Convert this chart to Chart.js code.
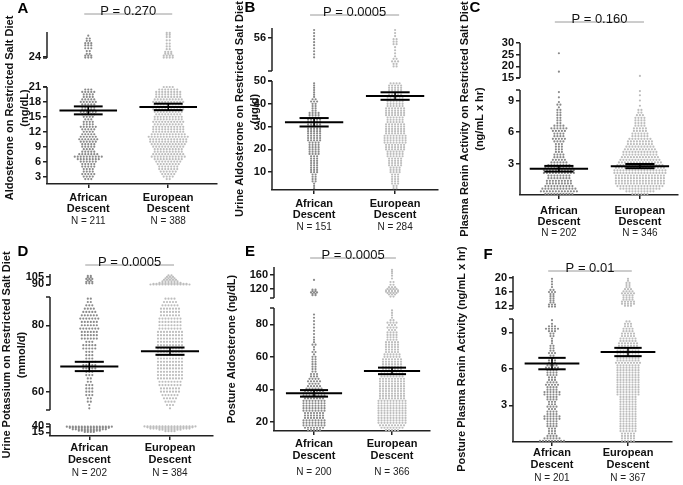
<!DOCTYPE html>
<html>
<head>
<meta charset="utf-8">
<title>Aldosterone and renin by ancestry</title>
<script src="https://cdn.jsdelivr.net/npm/chart.js@4.4.1/dist/chart.umd.min.js"></script>
<style>
  body { margin: 0; background: #fff; }
  #wrap { position: relative; width: 683px; height: 485px; overflow: hidden; }
  canvas { position: absolute; }
</style>
</head>
<body>
<div id="wrap">
  <canvas id="A" width="230" height="240" style="left:0;top:0"></canvas>
  <canvas id="B" width="225" height="240" style="left:230px;top:0"></canvas>
  <canvas id="C" width="228" height="240" style="left:455px;top:0"></canvas>
  <canvas id="D" width="230" height="245" style="left:0;top:240px"></canvas>
  <canvas id="E" width="233" height="245" style="left:222px;top:240px"></canvas>
  <canvas id="F" width="228" height="245" style="left:455px;top:240px"></canvas>
</div>
<script>
const FONT = '"Liberation Sans", Arial, sans-serif';

// x categories
const groupLabels = [['African', 'Descent'], ['European', 'Descent']];

// every swarm is a list of [value, dots in that row]
// A - aldosterone on restricted salt diet (ng/dL)
const aAfrican = [[2.5,3],[3,4],[3.5,5],[4,4],[4.5,4],[5,5],[5.5,5],[6,6],[6.5,8],[7,10],[7.5,7],[8,5],[8.5,4],[9,5],[9.5,5],[10,6],[10.5,7],[11,6],[11.5,5],[12,4],[12.5,5],[13,6],[13.5,4],[14,4],[14.5,3],[15,4],[15.5,5],[16,6],[16.5,5],[17,5],[17.5,5],[18,6],[18.5,5],[19,4],[19.5,4],[20,5],[20.5,3],
  [23.8,3],[24.2,3],[24.6,2],[25.2,2],[25.8,3],[26.4,3],[26.9,3],[27.4,2],[27.9,2],[28.5,1]];
const aEuropean = [[2.5,2],[3,4],[3.5,5],[4,6],[4.5,7],[5,7],[5.5,8],[6,9],[6.5,10],[7,12],[7.5,11],[8,10],[8.5,10],[9,11],[9.5,12],[10,13],[10.5,13],[11,14],[11.5,12],[12,11],[12.5,11],[13,11],[13.5,10],[14,11],[14.5,10],[15,10],[15.5,9],[16,10],[16.5,11],[17,11],[17.5,10],[18,11],[18.5,10],[19,9],[19.5,9],[20,9],[20.5,7],[21,4],
  [23.8,4],[24.2,4],[24.6,3],[25,3],[25.6,2],[26.2,2],[26.8,2],[27.5,2],[28.2,2],[28.7,2],[29.1,2]];
const aMean = [16.3, 17.0];
const aSem = [0.8, 0.65];
const aN = [211, 388];
const aTicks = [3, 6, 9, 12, 15, 18, 21, 24];

// B - urine aldosterone on restricted salt diet (µg/d)
const bAfrican = [[3,1],[4,1],[5,1],[6,2],[7,2],[8,2],[9,2],[10,3],[11,3],[12,3],[13,3],[14,3],[15,3],[16,3],[17,3],[18,4],[19,4],[20,4],[21,4],[22,4],[23,4],[24,5],[25,5],[26,5],[27,5],[28,5],[29,5],[30,5],[31,5],[32,5],[33,5],[34,4],[35,4],[36,4],[37,2],[38,2],[39,2],[40,2],[41,3],[42,2],[43,1],[44,1],[45,1],[46,1],[47,1],[48,1],[49,1],
  [52.2,1],[52.8,1],[53.4,1],[54,1],[54.6,1],[55.2,1],[55.8,1],[56.4,1],[57,1],[57.6,1]];
const bEuropean = [[3,2],[4,2],[5,3],[6,3],[7,3],[8,3],[9,3],[10,4],[11,4],[12,4],[13,5],[14,5],[15,5],[16,5],[17,6],[18,6],[19,6],[20,7],[21,7],[22,7],[23,8],[24,8],[25,8],[26,8],[27,7],[28,7],[29,7],[30,7],[31,7],[32,6],[33,6],[34,6],[35,7],[36,7],[37,7],[38,7],[39,6],[40,6],[41,6],[42,6],[43,6],[44,5],[45,5],[46,5],[47,5],[48,5],[49,4],
  [50.4,2],[50.9,2],[51.4,3],[51.9,2],[52.4,1],[53,1],[53.6,1],[54.2,1],[54.8,2],[55.3,2],[55.8,2],[56.4,1],[57,1],[57.6,1]];
const bMean = [31.9, 43.4];
const bSem = [1.85, 1.65];
const bN = [151, 284];
const bTicks = [10, 20, 30, 40, 50, 56];

// C - plasma renin activity on restricted salt diet (ng/mL x hr)
const cAfrican = [[0.1,10],[0.35,13],[0.6,12],[0.85,10],[1.1,9],[1.35,9],[1.6,8],[1.85,8],[2.1,11],[2.35,11],[2.6,10],[2.85,8],[3.1,6],[3.35,5],[3.6,4],[3.85,4],[4.1,3],[4.35,3],[4.6,3],[4.85,3],[5.1,4],[5.35,5],[5.6,4],[5.85,4],[6.1,5],[6.35,6],[6.6,4],[6.85,2],[7.1,2],[7.35,2],[7.6,2],[7.85,2],[8.1,2],[8.35,1],[8.6,2],[8.85,1],[9.3,1],[9.8,1],
  [17.7,1],[25.6,1]];
const cEuropean = [[0.1,6],[0.35,10],[0.6,14],[0.85,16],[1.1,17],[1.35,17],[1.6,17],[1.85,17],[2.1,18],[2.35,18],[2.6,17],[2.85,16],[3.1,15],[3.35,14],[3.6,13],[3.85,12],[4.1,12],[4.35,11],[4.6,10],[4.85,9],[5.1,9],[5.35,8],[5.6,6],[5.85,6],[6.1,5],[6.35,5],[6.6,4],[6.85,4],[7.1,4],[7.35,4],[7.6,3],[7.85,2],[8.1,2],[8.5,1],[9,1],[9.5,1],[9.9,1],
  [15.9,1]];
const cMean = [2.5, 2.75];
const cSem = [0.27, 0.2];
const cN = [202, 346];
const cTicks = [3, 6, 9, 15, 20, 25, 30];

// D - urine potassium on restricted salt diet (mmol/d)
const dAfrican = [[39,16],[34,14],[28,12],[22,8],[17,4],
  [55,1],[56,1],[57,2],[58,2],[59,3],[60,3],[61,3],[62,3],[63,2],[64,2],[65,3],[66,3],[67,5],[68,5],[69,5],[70,3],[71,3],[72,3],[73,5],[74,5],[75,3],[76,6],[77,6],[78,6],[79,7],[80,6],[81,6],[82,7],[83,6],[84,5],[85,4],[86,3],[87,2],[88,2],
  [92,3],[95,3],[98,2],[101,3],[104,2],[107,2]];
const dEuropean = [[40,18],[36,16],[31,14],[26,8],[20,4],
  [55,1],[56,3],[57,4],[58,5],[59,6],[60,7],[61,7],[62,8],[63,8],[64,9],[65,9],[66,9],[67,9],[68,9],[69,9],[70,9],[71,9],[72,9],[73,9],[74,9],[75,9],[76,9],[77,9],[78,9],[79,8],[80,8],[81,8],[82,8],[83,7],[84,7],[85,7],[86,6],[87,5],[88,4],
  [89.5,14],[91,12],[93,8],[96,6],[99,5],[102,4],[105,3],[108,2]];
const dMean = [67.6, 72.2];
const dSem = [1.4, 1.1];
const dN = [202, 384];
const dTicks = [15, 40, 60, 80, 90, 105];

// E - posture aldosterone (ng/dL)
const eAfrican = [[15,5],[16.5,7],[18,8],[19.5,8],[21,8],[22.5,7],[24,7],[25.5,7],[27,8],[28.5,8],[30,8],[31.5,8],[33,8],[34.5,7],[36,8],[37.5,8],[39,7],[40.5,6],[42,5],[43.5,4],[45,5],[46.5,4],[48,3],[49.5,3],[51,2],[52.5,2],[54,2],[55.5,2],[57,2],[58.5,2],[60,2],[61.5,1],[63,2],[64.5,1],[66,1],[67.5,2],[69,1],[70.5,1],[72,1],[74,1],[76,1],[78,1],[80,1],[82,1],[84,1],[86,1],
  [102,2],[106,2],[110,3],[114,2],[118,2],[146,1]];
const eEuropean = [[15,5],[16.5,8],[18,9],[19.5,10],[21,10],[22.5,10],[24,10],[25.5,10],[27,10],[28.5,10],[30,10],[31.5,10],[33,10],[34.5,9],[36,9],[37.5,9],[39,9],[40.5,9],[42,9],[43.5,9],[45,9],[46.5,9],[48,8],[49.5,8],[51,8],[52.5,7],[54,7],[55.5,7],[57,7],[58.5,7],[60,6],[61.5,6],[63,5],[64.5,5],[66,5],[67.5,5],[69,5],[70.5,4],[72,4],[73.5,4],[75,4],[76.5,3],[78,4],[79.5,3],[81,4],[82.5,2],[84,1],[85.5,1],[87,1],[88.5,1],
  [98,2],[104,3],[108,4],[112,5],[116,5],[120,4],[125,3],[132,2],[140,2],[150,1],[158,1],[165,1],[170,1],[175,1]];
const eMean = [37.6, 51.4];
const eSem = [2.0, 2.0];
const eN = [200, 366];
const eTicks = [20, 40, 60, 80, 120, 160];

// F - posture plasma renin activity (ng/mL x hr)
const fAfrican = [[0.1,9],[0.3,6],[0.5,4],[0.7,3],[0.9,3],[1.1,3],[1.3,4],[1.5,4],[1.7,4],[1.9,6],[2.1,6],[2.3,4],[2.5,4],[2.7,3],[2.9,4],[3.1,3],[3.3,3],[3.5,4],[3.7,4],[3.9,6],[4.1,6],[4.3,4],[4.5,4],[4.7,5],[4.9,4],[5.1,3],[5.3,3],[5.5,4],[5.7,4],[5.9,4],[6.1,5],[6.3,4],[6.5,3],[6.7,3],[6.9,2],[7.1,2],[7.3,3],[7.5,2],[7.7,2],[7.9,2],[8.1,1],[8.3,1],[8.5,1],[8.7,2],[8.9,2],[9.1,3],[9.3,5],[9.5,3],[9.7,1],[10,1],
  [11.8,3],[12.4,3],[13,2],[13.6,2],[14.2,2],[14.8,2],[15.4,2],[16,3],[16.6,2],[17.4,1],[18.2,1],[19,1],[19.8,1]];
const fEuropean = [[0.1,5],[0.3,5],[0.5,5],[0.7,5],[0.9,6],[1.1,6],[1.3,6],[1.5,6],[1.7,6],[1.9,6],[2.1,6],[2.3,6],[2.5,6],[2.7,6],[2.9,6],[3.1,6],[3.3,6],[3.5,6],[3.7,6],[3.9,8],[4.1,8],[4.3,8],[4.5,8],[4.7,8],[4.9,8],[5.1,8],[5.3,8],[5.5,8],[5.7,8],[5.9,8],[6.1,8],[6.3,8],[6.5,9],[6.7,8],[6.9,8],[7.1,8],[7.3,8],[7.5,8],[7.7,7],[7.9,7],[8.1,7],[8.3,6],[8.5,6],[8.7,5],[8.9,5],[9.1,4],[9.3,4],[9.5,3],[9.7,3],[9.9,2],
  [12,3],[12.6,5],[13.2,5],[13.8,4],[14.4,4],[15,4],[15.6,5],[16.2,4],[16.8,3],[17.4,2],[18,2],[18.6,2],[19.2,1],[19.8,1]];
const fMean = [6.44, 7.39];
const fSem = [0.47, 0.34];
const fN = [201, 367];
const fTicks = [3, 6, 9, 12, 16, 20];

const pValues = { A: 'P = 0.270', B: 'P = 0.0005', C: 'P = 0.160', D: 'P = 0.0005', E: 'P = 0.0005', F: 'P = 0.01' };
const yTitles = {
  A: ['Aldosterone on Restricted Salt Diet', '(ng/dL)'],
  B: ['Urine Aldosterone on Restricted Salt Diet', '(µg/d)'],
  C: ['Plasma Renin Activity on Restricted Salt Diet', '(ng/mL x hr)'],
  D: ['Urine Potassium on Restricted Salt Diet', '(mmol/d)'],
  E: 'Posture Aldosterone (ng/dL)',
  F: 'Posture Plasma Renin Activity (ng/mL x hr)'
};

const panels = {
  A: { afr: aAfrican, eur: aEuropean, mean: aMean, sem: aSem, n: aN, ticks: aTicks },
  B: { afr: bAfrican, eur: bEuropean, mean: bMean, sem: bSem, n: bN, ticks: bTicks },
  C: { afr: cAfrican, eur: cEuropean, mean: cMean, sem: cSem, n: cN, ticks: cTicks },
  D: { afr: dAfrican, eur: dEuropean, mean: dMean, sem: dSem, n: dN, ticks: dTicks },
  E: { afr: eAfrican, eur: eEuropean, mean: eMean, sem: eSem, n: eN, ticks: eTicks },
  F: { afr: fAfrican, eur: fEuropean, mean: fMean, sem: fSem, n: fN, ticks: fTicks }
};

// geometry: area = [left, right, top, bottom] in canvas px,
// segs = broken y axis pieces [from, to, height px] bottom up, gaps between them
const layout = {
  A: { area: [47, 217, 32, 184], x: [0.484, 2.61], segs: [[1.5, 21, 97], [23.7, 29.3, 26]], gaps: [29], labPad: 4, nOff: 37.4, pY: 14, letter: [23, 9], titlePad: 2.6 },
  B: { area: [42, 208, 28, 190], x: [0.48, 2.53], segs: [[2.2, 50, 109], [49.5, 58, 43]], gaps: [10], labPad: 4, nOff: 37, pY: 15, letter: [20, 8], titlePad: 2.6 },
  C: { area: [65, 223, 43, 195], x: [0.52, 2.47], segs: [[0, 10, 105], [15, 30, 35]], gaps: [12], labPad: 6, nOff: 38.3, pY: 22, letter: [20, 8], titlePad: 2.6 },
  D: { area: [50, 213, 34, 196], x: [0.513, 2.533], segs: [[0, 50, 12], [54.5, 88.5, 113], [88.5, 111, 11]], gaps: [14, 12], labPad: 2.3, nOff: 37.3, pY: 25, letter: [23, 12], titlePad: 0 },
  E: { area: [52, 208, 27, 191], x: [0.487, 2.487], segs: [[14.5, 90, 123], [94, 183, 31]], gaps: [10], labPad: 3.3, nOff: 41, pY: 18, letter: [28, 12], titlePad: 3 },
  F: { area: [58, 217, 36, 202], x: [0.487, 2.579], segs: [[0, 10.1, 123], [11.1, 20.6, 33]], gaps: [10], labPad: 1.3, nOff: 36, pY: 31, letter: [33, 15], titlePad: 0 }
};

// value -> position on the broken axis
function toDisp(L, v) {
  let base = 0;
  for (let i = 0; i < L.segs.length; i++) {
    const [lo, hi, px] = L.segs[i];
    if (v <= hi || i === L.segs.length - 1) return base + (v - lo) / (hi - lo) * px;
    base += px + L.gaps[i];
  }
}

function totalHeight(L) {
  return L.segs.reduce((s, g) => s + g[2], 0) + L.gaps.reduce((s, g) => s + g, 0);
}

// spread each row sideways, like a beeswarm
function swarm(rows, xc, dx, L) {
  const pts = [];
  rows.forEach(([v, n]) => {
    for (let i = 0; i < n; i++) pts.push({ x: xc + (i - (n - 1) / 2) * dx, y: toDisp(L, v) });
  });
  return pts;
}

function line(ctx, x0, y0, x1, y1) {
  ctx.beginPath();
  ctx.moveTo(x0, y0);
  ctx.lineTo(x1, y1);
  ctx.stroke();
}

function decor(key) {
  const P = panels[key], L = layout[key];
  return {
    id: 'decor' + key,
    afterDatasetsDraw(chart) {
      const { ctx, chartArea: ca, scales: { x, y } } = chart;
      ctx.save();
      // broken y axis
      ctx.strokeStyle = '#222';
      ctx.lineWidth = 1.5;
      let base = 0;
      L.segs.forEach((s, i) => {
        const yb = y.getPixelForValue(base), yt = y.getPixelForValue(base + s[2]);
        line(ctx, ca.left, yb, ca.left, yt);
        if (i > 0) line(ctx, ca.left - 4, yb, ca.left, yb);
        if (i < L.segs.length - 1) line(ctx, ca.left - 4, yt, ca.left, yt);
        base += s[2] + (L.gaps[i] || 0);
      });
      // mean with SEM
      ctx.strokeStyle = '#000';
      P.mean.forEach((m, g) => {
        const xc = g + 1;
        const ym = y.getPixelForValue(toDisp(L, m));
        const yh = y.getPixelForValue(toDisp(L, m + P.sem[g]));
        const yl = y.getPixelForValue(toDisp(L, m - P.sem[g]));
        ctx.lineWidth = 2;
        line(ctx, x.getPixelForValue(xc - 0.36), ym, x.getPixelForValue(xc + 0.36), ym);
        line(ctx, x.getPixelForValue(xc - 0.18), yh, x.getPixelForValue(xc + 0.18), yh);
        line(ctx, x.getPixelForValue(xc - 0.18), yl, x.getPixelForValue(xc + 0.18), yl);
        ctx.lineWidth = 1.5;
        line(ctx, x.getPixelForValue(xc), yh, x.getPixelForValue(xc), yl);
      });
      // P value
      ctx.strokeStyle = '#9a9a9a';
      ctx.lineWidth = 1;
      line(ctx, x.getPixelForValue(0.95), L.pY, x.getPixelForValue(2.05), L.pY);
      ctx.fillStyle = '#111';
      ctx.font = '13px ' + FONT;
      ctx.textAlign = 'center';
      ctx.textBaseline = 'alphabetic';
      ctx.fillText(pValues[key], x.getPixelForValue(1.5), L.pY + 1);
      // group sizes
      ctx.font = '10px ' + FONT;
      ctx.textBaseline = 'middle';
      ctx.fillStyle = '#222';
      P.n.forEach((n, g) => ctx.fillText('N = ' + n, x.getPixelForValue(g + 1), ca.bottom + L.nOff));
      // panel letter
      ctx.font = 'bold 15px ' + FONT;
      ctx.fillStyle = '#000';
      ctx.fillText(key, L.letter[0], L.letter[1]);
      ctx.restore();
    }
  };
}

Object.keys(panels).forEach(key => {
  const P = panels[key], L = layout[key];
  const canvas = document.getElementById(key);
  const [left, right, top, bottom] = L.area;
  const dx = 3.0 * (L.x[1] - L.x[0]) / (right - left);

  new Chart(canvas, {
    type: 'scatter',
    data: {
      datasets: [
        { data: swarm(P.afr, 1, dx, L), backgroundColor: '#8a8a8a', pointRadius: 1.1, pointBorderWidth: 0, clip: false },
        { data: swarm(P.eur, 2, dx, L), backgroundColor: '#bdbdbd', pointRadius: 1.1, pointBorderWidth: 0, clip: false }
      ]
    },
    options: {
      responsive: false,
      animation: false,
      devicePixelRatio: 1,
      events: [],
      layout: { autoPadding: false, padding: { left: 0, right: canvas.width - right, top: top, bottom: 0 } },
      plugins: { legend: { display: false }, tooltip: { enabled: false } },
      scales: {
        x: {
          type: 'linear', min: L.x[0], max: L.x[1], bounds: 'data',
          afterBuildTicks: s => { s.ticks = [{ value: 1 }, { value: 2 }]; },
          afterFit: s => { s.height = canvas.height - bottom; s.paddingLeft = 0; s.paddingRight = 0; },
          ticks: {
            callback: (v, i) => groupLabels[i],
            font: { family: FONT, size: 11, weight: 'bold', lineHeight: 1.05 },
            color: '#111', padding: L.labPad, maxRotation: 0, autoSkip: false
          },
          grid: { drawOnChartArea: false, drawTicks: true, tickLength: 4, color: '#222', lineWidth: 1.5 },
          border: { display: true, color: '#222', width: 1.5 }
        },
        y: {
          type: 'linear', min: 0, max: totalHeight(L), bounds: 'data',
          afterBuildTicks: s => { s.ticks = P.ticks.map(v => ({ value: toDisp(L, v) })); },
          afterFit: s => { s.width = left; s.paddingTop = 0; s.paddingBottom = 0; },
          ticks: {
            callback: (v, i) => String(P.ticks[i]),
            font: { family: FONT, size: 11, weight: 'bold' },
            color: '#111', padding: 2, autoSkip: false
          },
          grid: { drawOnChartArea: false, drawTicks: true, tickLength: 4, color: '#222', lineWidth: 1.5 },
          border: { display: false },
          title: {
            display: true, text: yTitles[key], color: '#111',
            font: { family: FONT, size: 11, weight: 'bold', lineHeight: 1.35 },
            padding: { top: L.titlePad, bottom: 0 }
          }
        }
      }
    },
    plugins: [decor(key)]
  });
});
</script>
</body>
</html>
